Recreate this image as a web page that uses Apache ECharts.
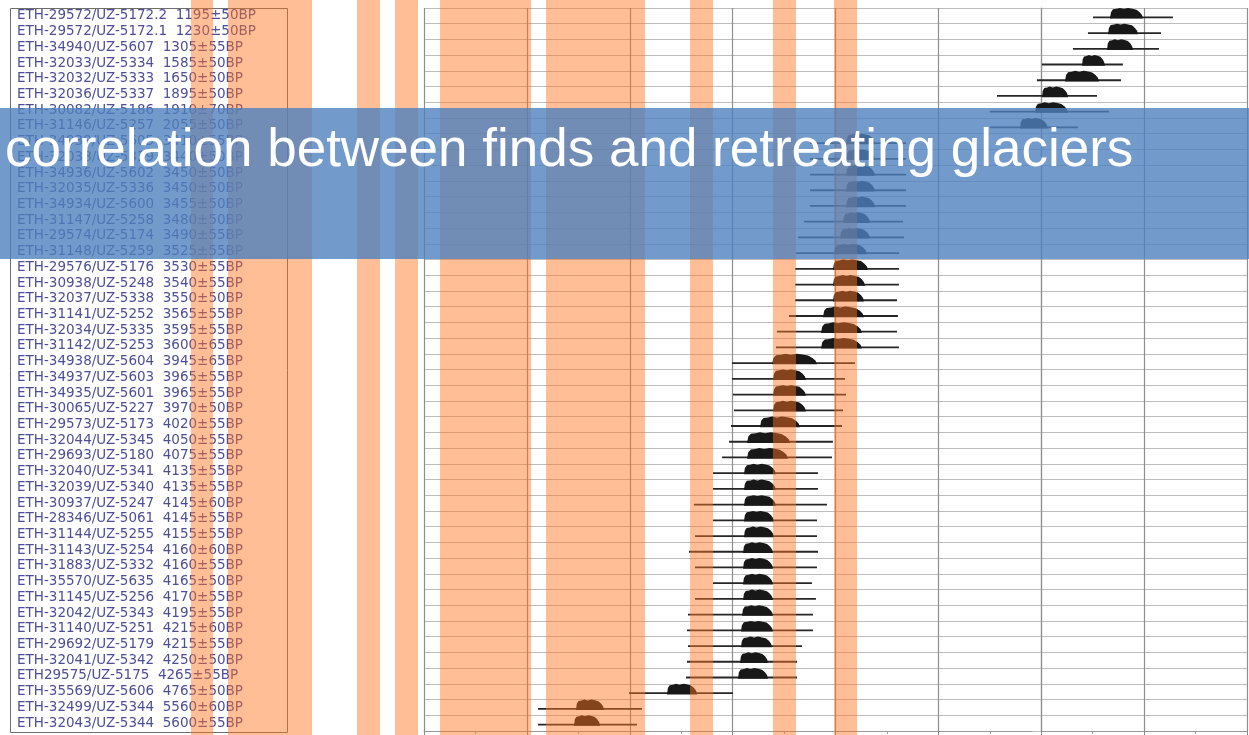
<!DOCTYPE html>
<html>
<head>
<meta charset="utf-8">
<script src="https://cdn.jsdelivr.net/npm/echarts/dist/echarts.min.js"></script>
<style>
  html, body { margin: 0; padding: 0; background: #fff; }
  #chart { width: 1249px; height: 735px; }
</style>
</head>
<body>
<div id="chart"></div>
<script>
// sample ids and radiocarbon ages, top to bottom
const labIds = [
  'ETH-29572/UZ-5172.2', 'ETH-29572/UZ-5172.1', 'ETH-34940/UZ-5607', 'ETH-32033/UZ-5334',
  'ETH-32032/UZ-5333', 'ETH-32036/UZ-5337', 'ETH-30082/UZ-5186', 'ETH-31146/UZ-5257',
  'ETH-34939/UZ-5605', 'ETH-32038/UZ-5339', 'ETH-34936/UZ-5602', 'ETH-32035/UZ-5336',
  'ETH-34934/UZ-5600', 'ETH-31147/UZ-5258', 'ETH-29574/UZ-5174', 'ETH-31148/UZ-5259',
  'ETH-29576/UZ-5176', 'ETH-30938/UZ-5248', 'ETH-32037/UZ-5338', 'ETH-31141/UZ-5252',
  'ETH-32034/UZ-5335', 'ETH-31142/UZ-5253', 'ETH-34938/UZ-5604', 'ETH-34937/UZ-5603',
  'ETH-34935/UZ-5601', 'ETH-30065/UZ-5227', 'ETH-29573/UZ-5173', 'ETH-32044/UZ-5345',
  'ETH-29693/UZ-5180', 'ETH-32040/UZ-5341', 'ETH-32039/UZ-5340', 'ETH-30937/UZ-5247',
  'ETH-28346/UZ-5061', 'ETH-31144/UZ-5255', 'ETH-31143/UZ-5254', 'ETH-31883/UZ-5332',
  'ETH-35570/UZ-5635', 'ETH-31145/UZ-5256', 'ETH-32042/UZ-5343', 'ETH-31140/UZ-5251',
  'ETH-29692/UZ-5179', 'ETH-32041/UZ-5342', 'ETH29575/UZ-5175', 'ETH-35569/UZ-5606',
  'ETH-32499/UZ-5344', 'ETH-32043/UZ-5344'
];
const bpDates = [
  '1195±50BP', '1230±50BP', '1305±55BP', '1585±50BP', '1650±50BP', '1895±50BP', '1910±70BP', '2055±50BP',
  '3410±55BP', '3440±50BP', '3450±50BP', '3450±50BP', '3455±50BP', '3480±50BP', '3490±55BP', '3525±55BP',
  '3530±55BP', '3540±55BP', '3550±50BP', '3565±55BP', '3595±55BP', '3600±65BP',
  '3945±65BP', '3965±55BP', '3965±55BP', '3970±50BP',
  '4020±55BP', '4050±55BP', '4075±55BP',
  '4135±55BP', '4135±55BP', '4145±60BP', '4145±55BP', '4155±55BP', '4160±60BP', '4160±55BP',
  '4165±50BP', '4170±55BP', '4195±55BP', '4215±60BP', '4215±55BP', '4250±50BP', '4265±55BP',
  '4765±50BP', '5560±60BP', '5600±55BP'
];

// calibrated ranges (years, negative = BC)
const rangeStart = [
  503, 454, 308, 7, -42, -430, -498, -498,
  -2248, -2248, -2248, -2248, -2248, -2306, -2365, -2384,
  -2394, -2394, -2394, -2452, -2569, -2578,
  -3006, -3006, -2997, -2987,
  -3016, -3035, -3103,
  -3191, -3191, -3376, -3191, -3366, -3424, -3366, -3191, -3366, -3434, -3444, -3434, -3444, -3453,
  -4007, -4892, -4892
];
const rangeEnd = [
  1280, 1164, 1144, 794, 775, 542, 658, 357,
  -1315, -1315, -1315, -1315, -1315, -1344, -1334, -1383,
  -1383, -1383, -1402, -1393, -1402, -1383,
  -1811, -1908, -1898, -1927,
  -1937, -2025, -2034,
  -2170, -2170, -2083, -2180, -2180, -2170, -2180, -2229, -2190, -2219, -2219, -2326, -2374, -2374,
  -2997, -3881, -3930
];
const peakStart = [
  668, 649, 639, 396, 231, 7, -61, -207,
  -1898, -1898, -1898, -1898, -1898, -1927, -1956, -2015,
  -2025, -2025, -2025, -2122, -2141, -2141,
  -2617, -2608, -2608, -2608,
  -2734, -2860, -2860,
  -2890, -2890, -2890, -2890, -2890, -2899, -2899, -2899, -2899, -2909, -2919, -2919, -2928, -2948,
  -3638, -4523, -4542
];
const peakEnd = [
  989, 940, 892, 619, 561, 260, 260, 65,
  -1616, -1616, -1616, -1616, -1616, -1665, -1665, -1694,
  -1684, -1713, -1723, -1723, -1743, -1743,
  -2180, -2287, -2287, -2287,
  -2345, -2442, -2462,
  -2579, -2579, -2579, -2598, -2598, -2608, -2608, -2608, -2608, -2608, -2608, -2617, -2656, -2656,
  -3346, -4250, -4289
];

// glacier retreat periods
const retreatFrom = [-5844, -4814, -3414, -2608, -2015];
const retreatTo = [-4960, -3852, -3191, -2384, -1791];

const title = 'correlation between finds and retreating glaciers';

var chart = echarts.init(document.getElementById('chart'));

var rows = labIds.map(function (id, i) {
  return [rangeStart[i], rangeEnd[i], peakStart[i], peakEnd[i], i];
});

function renderRow(params, api) {
  var idx = api.value(4);
  var a = api.coord([api.value(0), idx]);
  var b = api.coord([api.value(1), idx]);
  var p0 = api.coord([api.value(2), idx])[0];
  var p1 = api.coord([api.value(3), idx])[0];
  var h = api.size([0, 1])[1] * 0.6;
  var base = a[1] + 1.5;
  var w = p1 - p0;
  var pts = [
    [p0, base + 1.2], [p0 + w * 0.03, base - h * 0.55], [p0 + w * 0.09, base - h * 0.85],
    [p0 + w * 0.2, base - h * 0.9], [p0 + w * 0.3, base - h], [p0 + w * 0.42, base - h * 0.9],
    [p0 + w * 0.55, base - h], [p0 + w * 0.68, base - h * 0.92], [p0 + w * 0.8, base - h * 0.82],
    [p0 + w * 0.9, base - h * 0.55], [p0 + w * 0.97, base - h * 0.25], [p1, base + 1.2]
  ];
  return {
    type: 'group',
    children: [
      { type: 'line', shape: { x1: a[0], y1: base, x2: b[0], y2: base },
        style: { stroke: '#262626', lineWidth: 1.8 } },
      { type: 'polygon', shape: { points: pts }, style: { fill: '#181818' } }
    ]
  };
}

var option = {
  animation: false,
  grid: { left: 424, right: 2, top: 8, bottom: 4 },
  xAxis: {
    type: 'value',
    min: -6000,
    max: 2000,
    interval: 1000,
    axisLabel: { show: false },
    axisLine: { show: true, lineStyle: { color: '#999' } },
    axisTick: { show: true, length: 4, lineStyle: { color: '#888' } },
    minorTick: { show: true, splitNumber: 2, length: 3, lineStyle: { color: '#999' } },
    splitLine: { show: true, lineStyle: { color: '#8e8e8e', width: 1.2 } }
  },
  yAxis: {
    type: 'category',
    inverse: true,
    data: labIds.map(function (id, i) { return id + '  ' + bpDates[i]; }),
    axisLine: { show: true, lineStyle: { color: '#8e8e8e', width: 1.2 } },
    axisTick: { show: true, length: 9, lineStyle: { color: '#bdbdbd' } },
    splitLine: { show: true, lineStyle: { color: '#bdbdbd' } },
    axisLabel: {
      interval: 0,
      align: 'left',
      margin: 407,
      color: '#4e4e98',
      fontFamily: 'DejaVu Sans',
      fontSize: 13.5
    }
  },
  series: [{
    type: 'custom',
    renderItem: renderRow,
    encode: { x: [0, 1, 2, 3], y: 4 },
    data: rows
  }]
};
chart.setOption(option);

// overlays: label box, orange bands, blue banner with title
var overlay = [
  { type: 'rect', z: 50, shape: { x: 10.5, y: 8.5, width: 277, height: 724 },
    style: { fill: 'transparent', stroke: '#6e6e6e', lineWidth: 1 } }
];
[[191, 213], [228, 312], [357, 380], [395, 418]].forEach(function (r) {
  overlay.push({ type: 'rect', z: 100, shape: { x: r[0], y: 0, width: r[1] - r[0], height: 735 },
    style: { fill: 'rgba(255,117,32,0.47)' } });
});
retreatFrom.forEach(function (f, i) {
  var x0 = chart.convertToPixel({ xAxisIndex: 0 }, f);
  var x1 = chart.convertToPixel({ xAxisIndex: 0 }, retreatTo[i]);
  overlay.push({ type: 'rect', z: 100, shape: { x: x0, y: 0, width: x1 - x0, height: 735 },
    style: { fill: 'rgba(255,117,32,0.47)' } });
});
overlay.push({ type: 'rect', z: 110, shape: { x: 0, y: 108, width: 1249, height: 151 },
  style: { fill: 'rgba(79,129,189,0.8)' } });
overlay.push({ type: 'text', z: 120, x: 5, y: 151,
  style: { text: title, fill: '#fff', fontSize: 53, fontFamily: 'Liberation Sans',
    align: 'left', verticalAlign: 'middle' } });

chart.setOption({ graphic: overlay });
</script>
</body>
</html>
